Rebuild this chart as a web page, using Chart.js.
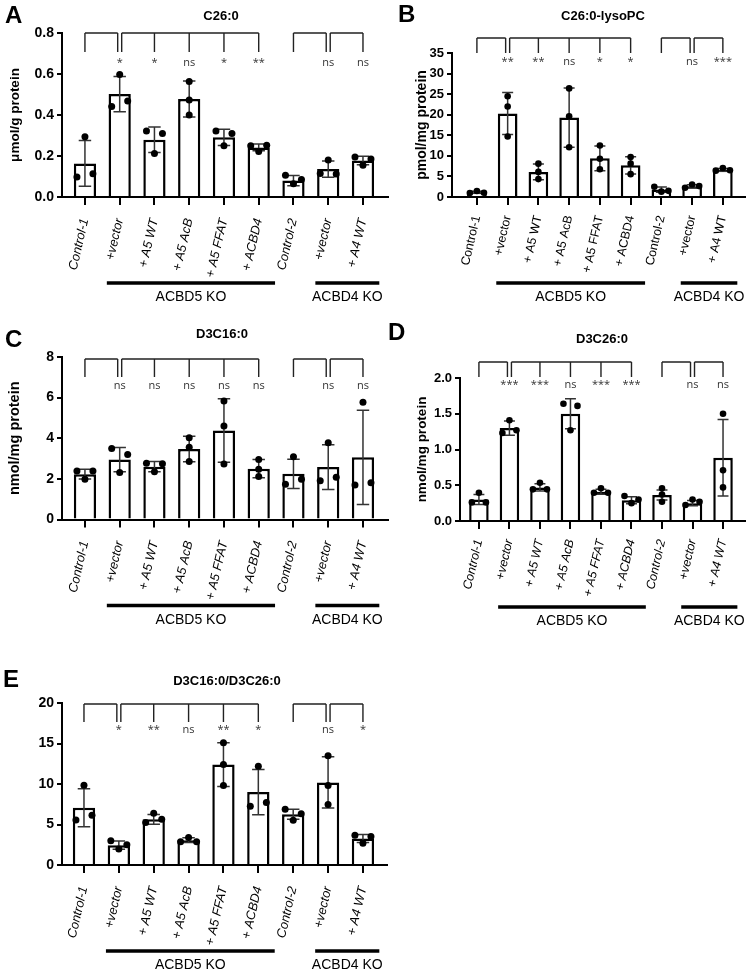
<!DOCTYPE html>
<html><head><meta charset="utf-8">
<script src="https://cdn.jsdelivr.net/npm/chart.js@4.4.1/dist/chart.umd.min.js"></script>
<style>
html,body{margin:0;padding:0;background:#fff;}
#wrap{position:relative;width:750px;height:971px;overflow:hidden;background:#fff;}
canvas{position:absolute;}
</style></head><body><div id="wrap">
<canvas id="cA" width="392" height="310" style="left:0px;top:0px"></canvas>
<canvas id="cB" width="370" height="310" style="left:380px;top:0px"></canvas>
<canvas id="cC" width="392" height="320" style="left:0px;top:310px"></canvas>
<canvas id="cD" width="370" height="320" style="left:380px;top:310px"></canvas>
<canvas id="cE" width="420" height="341" style="left:0px;top:630px"></canvas>
</div>
<script>
// ---------- data ----------
const categories = ['Control-1', '+vector', '+ A5 WT', '+ A5 AcB', '+ A5 FFAT', '+ ACBD4', 'Control-2', '+vector', '+ A4 WT'];
const groupNames = ['ACBD5 KO', 'ACBD4 KO'];
const groupFirst = [1, 7];
const groupLast = [5, 8];
const sigRefs = [0, 1, 1, 1, 1, 6, 7];
const sigTargets = [1, 2, 3, 4, 5, 7, 8];

const c26Mean = [0.164, 0.502, 0.279, 0.478, 0.291, 0.242, 0.080, 0.136, 0.178];
const c26Sd = [0.112, 0.086, 0.062, 0.088, 0.040, 0.016, 0.025, 0.040, 0.021];
const c26Reps = [[0.098, 0.294, 0.114], [0.441, 0.598, 0.468], [0.322, 0.212, 0.310], [0.563, 0.473, 0.400], [0.322, 0.250, 0.310], [0.250, 0.222, 0.252], [0.106, 0.065, 0.085], [0.115, 0.180, 0.112], [0.195, 0.155, 0.185]];
const c26Sig = ['*', '*', 'ns', '*', '**', 'ns', 'ns'];

const lysoMean = [1.15, 20.3, 6.1, 19.3, 9.4, 7.7, 1.8, 2.6, 6.6];
const lysoSd = [0.25, 5.1, 1.9, 7.2, 3.0, 2.1, 0.65, 0.4, 0.35];
const lysoReps = [[0.95, 1.45, 1.05], [24.5, 22.0, 14.7], [8.1, 6.1, 4.35], [26.4, 19.6, 12.1], [12.5, 9.3, 6.75], [9.7, 8.1, 5.55], [2.5, 1.3, 1.5], [2.25, 3.05, 2.65], [6.4, 7.05, 6.5]];
const lysoSig = ['**', '**', 'ns', '*', '*', 'ns', '***'];

const d3c16Mean = [2.23, 2.95, 2.6, 3.47, 4.38, 2.5, 2.25, 2.58, 3.06];
const d3c16Sd = [0.24, 0.6, 0.25, 0.63, 1.56, 0.45, 0.72, 1.1, 2.32];
const d3c16Reps = [[2.39, 1.98, 2.39], [3.5, 2.31, 3.2], [2.77, 2.35, 2.74], [4.03, 3.56, 2.85], [5.84, 4.6, 2.73], [2.95, 2.47, 2.12], [1.73, 3.09, 1.98], [1.91, 3.78, 2.08], [1.70, 5.77, 1.81]];
const d3c16Sig = ['ns', 'ns', 'ns', 'ns', 'ns', 'ns', 'ns'];

const d3c26Mean = [0.30, 1.30, 0.47, 1.50, 0.41, 0.29, 0.365, 0.25, 0.885];
const d3c26Sd = [0.07, 0.10, 0.05, 0.21, 0.035, 0.05, 0.07, 0.035, 0.535];
const d3c26Reps = [[0.26, 0.395, 0.26], [1.23, 1.41, 1.27], [0.443, 0.536, 0.443], [1.64, 1.27, 1.61], [0.396, 0.457, 0.396], [0.35, 0.25, 0.30], [0.37, 0.457, 0.27], [0.224, 0.30, 0.27], [1.50, 0.71, 0.47]];
const d3c26Sig = ['***', '***', 'ns', '***', '***', 'ns', 'ns'];

const ratioMean = [7.07, 2.45, 5.64, 3.07, 12.4, 9.0, 6.26, 10.2, 3.27];
const ratioSd = [2.35, 0.5, 0.6, 0.3, 2.7, 2.8, 0.62, 3.15, 0.5];
const ratioReps = [[5.56, 9.85, 6.13], [2.98, 1.96, 2.5], [5.24, 6.38, 5.64], [2.86, 3.38, 2.86], [15.1, 12.4, 9.82], [7.24, 12.2, 7.73], [6.87, 5.52, 6.34], [13.5, 9.82, 7.48], [3.68, 2.7, 3.52]];
const ratioSig = ['*', '**', 'ns', '**', '*', 'ns', '*'];

// ---------- panels ----------
const FONT = '"Liberation Sans", Arial, Helvetica, sans-serif';
const panels = [
  {id:'cA', letter:'A', title:'C26:0', yTitle:'\u03bcmol/g protein', mean:c26Mean, sd:c26Sd, reps:c26Reps, sig:c26Sig, yMax:0.8, yStep:0.2, dec:1, italic:true,
   L:{yW:62, top:33, right:4, xH:113, xMin:-0.66, xMax:8.72, xPad:12, catSize:12.8, tickSize:14, yTitleSize:13.5, yTitlePad:7, brTop:33, brDrop:52, sigBase:66, letterX:5, letterY:23, titleX:221, titleY:20, dot:3.5}},
  {id:'cB', letter:'B', title:'C26:0-lysoPC', yTitle:'pmol/mg protein', mean:lysoMean, sd:lysoSd, reps:lysoReps, sig:lysoSig, yMax:35, yStep:5, dec:0, italic:false,
   L:{yW:72, top:53, right:5, xH:113, xMin:-0.81, xMax:8.72, xPad:9, catSize:12.4, tickSize:13, yTitleSize:14, yTitlePad:33.5, brTop:38, brDrop:53, sigBase:64.5, letterX:18, letterY:22, titleX:223, titleY:20, dot:3.3}},
  {id:'cC', letter:'C', title:'D3C16:0', yTitle:'nmol/mg protein', mean:d3c16Mean, sd:d3c16Sd, reps:d3c16Reps, sig:d3c16Sig, yMax:8, yStep:2, dec:0, italic:true,
   L:{yW:62, top:47, right:4, xH:110.5, xMin:-0.66, xMax:8.72, xPad:12, catSize:12.8, tickSize:14, yTitleSize:14.5, yTitlePad:6, brTop:49, brDrop:67, sigBase:79, letterX:5, letterY:37, titleX:222, titleY:28, dot:3.5}},
  {id:'cD', letter:'D', title:'D3C26:0', yTitle:'nmol/mg protein', mean:d3c26Mean, sd:d3c26Sd, reps:d3c26Reps, sig:d3c26Sig, yMax:2, yStep:0.5, dec:1, italic:true,
   L:{yW:80, top:68, right:5, xH:109, xMin:-0.62, xMax:8.72, xPad:9, catSize:12.4, tickSize:13, yTitleSize:13.5, yTitlePad:34, brTop:52, brDrop:67, sigBase:78, letterX:8, letterY:30, titleX:222, titleY:33, dot:3.3}},
  {id:'cE', letter:'E', title:'D3C16:0/D3C26:0', yTitle:'', mean:ratioMean, sd:ratioSd, reps:ratioReps, sig:ratioSig, yMax:20, yStep:5, dec:0, italic:true,
   L:{yW:62, top:73, right:33, xH:106, xMin:-0.63, xMax:8.69, xPad:12, catSize:12.8, tickSize:14, yTitleSize:14, yTitlePad:7, brTop:74, brDrop:92, sigBase:103, letterX:3, letterY:57, titleX:227, titleY:55, dot:3.5}}
];

// spread replicate points horizontally only when they overlap vertically
function jitter(vals, thr) {
  const idx = vals.map((v, k) => k).sort((a, b) => vals[b] - vals[a]);
  const clusters = [];
  let cur = [idx[0]];
  for (let k = 1; k < idx.length; k++) {
    if (vals[idx[k - 1]] - vals[idx[k]] < thr) cur.push(idx[k]);
    else { clusters.push(cur); cur = [idx[k]]; }
  }
  clusters.push(cur);
  const off = new Array(vals.length).fill(0);
  clusters.forEach(c => {
    c.sort((a, b) => a - b);
    const n = c.length;
    c.forEach((k, j) => { off[k] = n === 1 ? 0 : (j - (n - 1) / 2) * (2 / (n - 1)); });
  });
  return off;
}

function makeDeco(p) {
  const L = p.L;
  return {
    id: 'deco' + p.letter,
    afterDatasetDraw(chart, args) {
      if (args.meta.type !== 'bar') return;
      const xs = chart.scales.x, ys = chart.scales.y, ctx = chart.ctx;
      const bw = args.meta.data[0].width;
      ctx.save();
      ctx.strokeStyle = '#333';
      ctx.lineWidth = 1.5;
      p.mean.forEach((m, i) => {
        const x = xs.getPixelForValue(i);
        const hi = ys.getPixelForValue(m + p.sd[i]);
        const loV = m - p.sd[i];
        const lo = ys.getPixelForValue(Math.max(0, loV));
        const cw = bw * 0.28;
        ctx.beginPath();
        ctx.moveTo(x, lo); ctx.lineTo(x, hi);
        ctx.moveTo(x - cw, hi); ctx.lineTo(x + cw, hi);
        if (loV > 0) { ctx.moveTo(x - cw, lo); ctx.lineTo(x + cw, lo); }
        ctx.stroke();
      });
      ctx.restore();
    },
    afterDraw(chart) {
      const ctx = chart.ctx, xs = chart.scales.x;
      const X = i => xs.getPixelForValue(i);
      ctx.save();
      ctx.fillStyle = '#000';
      ctx.textBaseline = 'alphabetic';
      // panel letter
      ctx.font = 'bold 24px ' + FONT;
      ctx.textAlign = 'left';
      ctx.fillText(p.letter, L.letterX, L.letterY);
      // title
      ctx.font = 'bold 13px ' + FONT;
      ctx.textAlign = 'center';
      ctx.fillText(p.title, L.titleX, L.titleY);
      // significance brackets
      const g = 2;
      const refs = [...new Set(sigRefs)];
      ctx.strokeStyle = '#222';
      ctx.lineWidth = 1.4;
      refs.forEach(r => {
        const tg = sigTargets.filter((t, k) => sigRefs[k] === r);
        const start = sigTargets.includes(r) ? X(r) + g : X(r);
        const pts = [start].concat(tg.map(t => (sigRefs.includes(t) && t !== r) ? X(t) - g : X(t)));
        ctx.beginPath();
        ctx.moveTo(Math.min(...pts), L.brTop);
        ctx.lineTo(Math.max(...pts), L.brTop);
        pts.forEach(x => { ctx.moveTo(x, L.brTop); ctx.lineTo(x, L.brDrop); });
        ctx.stroke();
      });
      ctx.fillStyle = '#333';
      ctx.font = '11px "Open Sans", "DejaVu Sans", sans-serif';
      sigTargets.forEach((t, k) => ctx.fillText(p.sig[k], X(t), L.sigBase));
      // group lines
      const step = X(1) - X(0);
      const yb = chart.chartArea.bottom + 86;
      ctx.fillStyle = '#000';
      ctx.strokeStyle = '#000';
      ctx.lineWidth = 3.5;
      ctx.font = '14px ' + FONT;
      groupNames.forEach((name, k) => {
        const x0 = X(groupFirst[k]) - 0.37 * step;
        const x1 = X(groupLast[k]) + 0.47 * step;
        ctx.beginPath(); ctx.moveTo(x0, yb); ctx.lineTo(x1, yb); ctx.stroke();
        ctx.fillText(name, (x0 + x1) / 2, yb + 18);
      });
      ctx.restore();
    }
  };
}

function makeChart(p) {
  const L = p.L;
  const thr = 0.04 * p.yMax;
  const pts = [];
  p.reps.forEach((vals, i) => {
    const off = jitter(vals, thr);
    vals.forEach((v, k) => pts.push({x: i + off[k] * 0.23, y: v}));
  });
  return new Chart(document.getElementById(p.id), {
    type: 'bar',
    data: {
      datasets: [
        {type: 'scatter', data: pts, pointRadius: L.dot, pointHoverRadius: L.dot, pointBackgroundColor: '#000', pointBorderColor: '#000', pointBorderWidth: 0, order: 1},
        {type: 'bar', data: p.mean.map((m, i) => ({x: i, y: m})), backgroundColor: '#fff', borderColor: '#000', borderWidth: 2.5, categoryPercentage: 1, barPercentage: 0.64, order: 2}
      ]
    },
    options: {
      responsive: false, animation: false, devicePixelRatio: 1,
      layout: {padding: {left: 0, top: L.top, right: L.right, bottom: 0}},
      plugins: {legend: {display: false}, tooltip: {enabled: false}, title: {display: false}},
      scales: {
        x: {
          type: 'linear', min: L.xMin, max: L.xMax, offset: false, bounds: 'data', z: 1,
          afterBuildTicks: s => { s.ticks = categories.map((c, i) => ({value: i})); },
          afterFit: s => { s.height = L.xH; },
          ticks: {autoSkip: false, minRotation: 77, maxRotation: 77, padding: L.xPad, color: '#000',
                  font: {family: FONT, size: L.catSize, style: p.italic ? 'italic' : 'normal'},
                  callback: v => (categories[v] !== undefined ? categories[v] : '')},
          grid: {offset: false, drawOnChartArea: false, drawTicks: true, tickLength: 8, tickWidth: 2, tickColor: '#000', color: '#000', lineWidth: 2},
          border: {display: true, color: '#000', width: 2}
        },
        y: {
          min: 0, max: p.yMax, z: 1,
          afterFit: s => { s.width = L.yW; },
          ticks: {stepSize: p.yStep, color: '#000', padding: 3, font: {family: FONT, size: L.tickSize, weight: 'bold'},
                  callback: v => Number(v).toFixed(p.dec)},
          grid: {drawOnChartArea: false, drawTicks: true, tickLength: 5, tickWidth: 2, tickColor: '#000', color: '#000', lineWidth: 2},
          border: {display: true, color: '#000', width: 2},
          title: {display: !!p.yTitle, text: p.yTitle, color: '#000', font: {family: FONT, size: L.yTitleSize, weight: 'bold'}, padding: {top: L.yTitlePad, bottom: 0}}
        }
      }
    },
    plugins: [makeDeco(p)]
  });
}

panels.forEach(makeChart);
</script>
</body></html>
